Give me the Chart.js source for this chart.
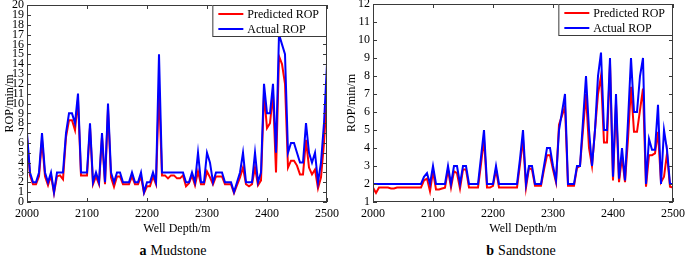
<!DOCTYPE html>
<html>
<head>
<meta charset="utf-8">
<script src="https://cdn.jsdelivr.net/npm/chart.js@4.4.0/dist/chart.umd.min.js"></script>
<style>
  body { margin: 0; width: 685px; height: 258px; background: #fff; position: relative; overflow: hidden; font-family: "Liberation Serif", serif; }
  canvas { position: absolute; top: 0; }
  #mudChart { left: 0; }
  #sandChart { left: 340px; }
  .caption { position: absolute; top: 244px; font-size: 14px; line-height: 14px; color: #000; white-space: nowrap; transform: translateX(-50%); }
  .caption b { margin-right: 4px; }
</style>
</head>
<body>
<canvas id="mudChart" width="340" height="240"></canvas>
<canvas id="sandChart" width="345" height="240"></canvas>
<div class="caption" style="left:173px"><b>a</b>Mudstone</div>
<div class="caption" style="left:521px"><b>b</b>Sandstone</div>
<script>
// well depth samples (m), shared by both panels
const depth = [
  2000, 2005, 2010, 2015, 2020, 2025, 2030, 2035, 2040, 2045,
  2050, 2055, 2060, 2065, 2070, 2075, 2080, 2085, 2090, 2095,
  2100, 2105, 2110, 2115, 2120, 2125, 2130, 2135, 2140, 2145,
  2150, 2155, 2160, 2165, 2170, 2175, 2180, 2185, 2190, 2195,
  2200, 2205, 2210, 2215, 2220, 2225, 2230, 2235, 2240, 2245,
  2250, 2255, 2260, 2265, 2270, 2275, 2280, 2285, 2290, 2295,
  2300, 2305, 2310, 2315, 2320, 2325, 2330, 2335, 2340, 2345,
  2350, 2355, 2360, 2365, 2370, 2375, 2380, 2385, 2390, 2395,
  2400, 2405, 2410, 2415, 2420, 2425, 2430, 2435, 2440, 2445,
  2450, 2455, 2460, 2465, 2470, 2475, 2480, 2485, 2490, 2495,
  2500
];

// a Mudstone
const mudPredicted = [
  6.6, 2.7, 1.8, 1.8, 2.6, 6.3, 2.6, 1.7, 2.7, 0.9,
  2.6, 2.7, 2.3, 6.6, 8.3, 8.3, 7.3, 10.4, 2.7, 2.7,
  2.7, 7.6, 1.8, 2.6, 1.8, 6.6, 1.8, 9.5, 2.5, 1.55,
  2.6, 2.6, 1.8, 1.8, 1.8, 2.6, 1.8, 1.8, 2.6, 0.9,
  1.6, 1.6, 2.6, 1.8, 11.5, 2.7, 2.7, 2.4, 2.7, 2.7,
  2.4, 2.4, 2.7, 1.6, 1.9, 2.7, 1.7, 3.1, 1.8, 1.8,
  3.1, 2.5, 1.8, 2.6, 2.6, 2.6, 1.8, 1.8, 1.8, 0.9,
  1.7, 2.5, 3.5, 1.8, 1.6, 1.8, 3.5, 1.7, 2.2, 11,
  7.5, 8, 11, 3, 14.8, 14, 12, 3.5, 4.2, 4.2,
  3.7, 2.8, 2.8, 6.3, 3.5, 2.8, 3.3, 1.4, 2.5, 6,
  10.9
];
const mudActual = [
  7, 3, 2, 2, 3, 7, 3, 2, 3, 1,
  3, 3, 3, 7, 9, 9, 8, 11, 3, 3,
  3, 8, 2, 3, 2, 7, 2, 10, 3, 2,
  3, 3, 2, 2, 2, 3, 2, 2, 3, 1,
  2, 2, 3, 2, 15, 3, 3, 3, 3, 3,
  3, 3, 3, 2, 2, 3, 2, 5, 2, 2,
  5, 4, 2, 3, 3, 3, 2, 2, 2, 1,
  2, 3, 5, 2, 2, 2, 5, 2, 3, 12,
  9, 9, 12, 5, 17, 16, 15, 5, 6, 6,
  5, 4, 4, 8, 5, 4, 5, 2, 4, 8,
  14
];

// b Sandstone
const sandPredicted = [
  1.8, 1.5, 1.8, 1.8, 1.8, 1.8, 1.75, 1.75, 1.8, 1.8,
  1.8, 1.8, 1.8, 1.8, 1.8, 1.8, 1.8, 2.2, 2.3, 1.6,
  2.7, 1.7, 1.7, 1.75, 1.8, 2.8, 1.8, 2.7, 2.6, 1.75,
  2.8, 2.8, 1.8, 1.8, 1.8, 1.8, 3.1, 4.5, 1.8, 1.8,
  1.9, 2.8, 1.8, 1.8, 1.8, 1.8, 1.8, 1.8, 1.8, 3.1,
  4.5, 1.8, 2.9, 2.8, 1.9, 1.9, 1.9, 2.8, 3.6, 3.6,
  2.8, 2.1, 5.3, 5.8, 6.3, 1.9, 1.9, 1.9, 2.9, 3,
  5, 7, 4, 3, 5, 7, 8, 4.3, 4.3, 8.7,
  2.2, 6.5, 2.1, 3.5, 2.1, 4.5, 7.4, 4.9, 4.9, 6.1,
  7.3, 1.85, 3.6, 3.6, 3.7, 4.9, 2.1, 2.4, 3.7, 1.85,
  1.8
];
const sandActual = [
  2, 2, 2, 2, 2, 2, 2, 2, 2, 2,
  2, 2, 2, 2, 2, 2, 2, 2.4, 2.6, 2,
  3, 2, 2, 2, 2, 3, 2, 3, 3, 2,
  3, 3, 2, 2, 2, 2, 3.5, 5, 2, 2,
  2, 3, 2, 2, 2, 2, 2, 2, 2, 3.4,
  5, 2, 3, 3, 2, 2, 2, 3, 4, 4,
  3, 2.2, 5, 6, 7, 2, 2, 2, 3, 3,
  5.5, 8, 5, 3, 5, 8, 9.3, 5, 5, 9,
  2.4, 7, 2.3, 4, 2.2, 5.5, 9, 6, 6, 8,
  9, 2, 4.5, 3.9, 3.9, 6.4, 2, 5, 3.9, 2,
  2
];

const xTicks = [2000, 2100, 2200, 2300, 2400, 2500];
const legendLabels = ["Predicted ROP", "Actual ROP"];

const frameColor = "#3a3a3a";
const serif = "'Liberation Serif', 'Times New Roman', serif";

// box round the plot, inward ticks on all four sides, legend box top right
const framePlugin = {
  id: "frame",
  afterDatasetsDraw(chart) {
    const ctx = chart.ctx;
    const { left, right, top, bottom } = chart.chartArea;
    const xs = chart.scales.x;
    const ys = chart.scales.y;
    ctx.save();
    ctx.strokeStyle = frameColor;
    ctx.lineWidth = 1;
    ctx.strokeRect(left + 0.5, top + 0.5, right - left - 1, bottom - top - 1);
    ctx.beginPath();
    xs.ticks.forEach((t) => {
      const x = Math.round(xs.getPixelForValue(t.value)) + 0.5;
      ctx.moveTo(x, bottom);
      ctx.lineTo(x, bottom - 4);
      ctx.moveTo(x, top);
      ctx.lineTo(x, top + 4);
    });
    ys.ticks.forEach((t) => {
      const y = Math.round(ys.getPixelForValue(t.value)) + 0.5;
      ctx.moveTo(left, y);
      ctx.lineTo(left + 4, y);
      ctx.moveTo(right, y);
      ctx.lineTo(right - 4, y);
    });
    ctx.stroke();

    // legend
    ctx.font = "12px " + serif;
    const textW = Math.max(...chart.data.datasets.map((d) => ctx.measureText(d.label).width));
    const boxW = 6 + 25 + 4 + textW + 8;
    const boxH = 32;
    const bx = right - boxW;
    const by = top;
    ctx.fillStyle = "#fff";
    ctx.fillRect(bx, by, boxW, boxH);
    ctx.strokeStyle = frameColor;
    ctx.strokeRect(bx + 0.5, by + 0.5, boxW - 1, boxH - 1);
    chart.data.datasets.forEach((d, i) => {
      const ly = by + 9 + i * 15;
      ctx.strokeStyle = d.borderColor;
      ctx.lineWidth = 2;
      ctx.beginPath();
      ctx.moveTo(bx + 6, ly);
      ctx.lineTo(bx + 31, ly);
      ctx.stroke();
      ctx.fillStyle = "#000";
      ctx.textBaseline = "middle";
      ctx.textAlign = "left";
      ctx.fillText(d.label, bx + 35, ly + 1);
    });
    ctx.restore();
  },
};

function makeChart(id, predicted, actual, yMin, yMax, yWidth, pad) {
  const toPoints = (vals) => depth.map((d, i) => ({ x: d, y: vals[i] }));
  return new Chart(document.getElementById(id), {
    type: "line",
    data: {
      datasets: [
        {
          label: legendLabels[0],
          data: toPoints(predicted),
          borderColor: "#ff0000",
          borderWidth: 2,
          pointRadius: 0,
          tension: 0,
          order: 1,
        },
        {
          label: legendLabels[1],
          data: toPoints(actual),
          borderColor: "#0000ff",
          borderWidth: 2,
          pointRadius: 0,
          tension: 0,
          order: 0,
        },
      ],
    },
    options: {
      responsive: false,
      animation: false,
      events: [],
      layout: { padding: pad },
      plugins: { legend: { display: false }, tooltip: { enabled: false } },
      scales: {
        x: {
          type: "linear",
          min: 2000,
          max: 2500,
          afterBuildTicks: (scale) => {
            scale.ticks = xTicks.map((v) => ({ value: v }));
          },
          afterFit: (scale) => {
            scale.height = 34;
            scale.paddingLeft = 0;
            scale.paddingRight = 0;
          },
          grid: { display: false, drawTicks: false },
          border: { display: false },
          ticks: {
            color: "#000",
            padding: 5,
            maxRotation: 0,
            autoSkip: false,
            font: { family: serif, size: 12 },
            callback: (v) => String(v),
          },
          title: { display: true, text: "Well Depth/m", color: "#000", padding: 0, font: { family: serif, size: 12 } },
        },
        y: {
          min: yMin,
          max: yMax,
          afterFit: (scale) => {
            scale.width = yWidth;
            scale.paddingTop = 0;
            scale.paddingBottom = 0;
          },
          grid: { display: false, drawTicks: false },
          border: { display: false },
          ticks: { stepSize: 1, autoSkip: false, color: "#000", padding: 3, font: { family: serif, size: 12 } },
          title: { display: true, text: "ROP/min/m", color: "#000", padding: 0, font: { family: serif, size: 12 } },
        },
      },
    },
    plugins: [framePlugin],
  });
}

makeChart("mudChart", mudPredicted, mudActual, 0, 20, 24, { left: 3, right: 13, top: 5, bottom: 4 });
makeChart("sandChart", sandPredicted, sandActual, 1, 12, 28, { left: 5, right: 12, top: 4, bottom: 4 });
</script>
</body>
</html>
